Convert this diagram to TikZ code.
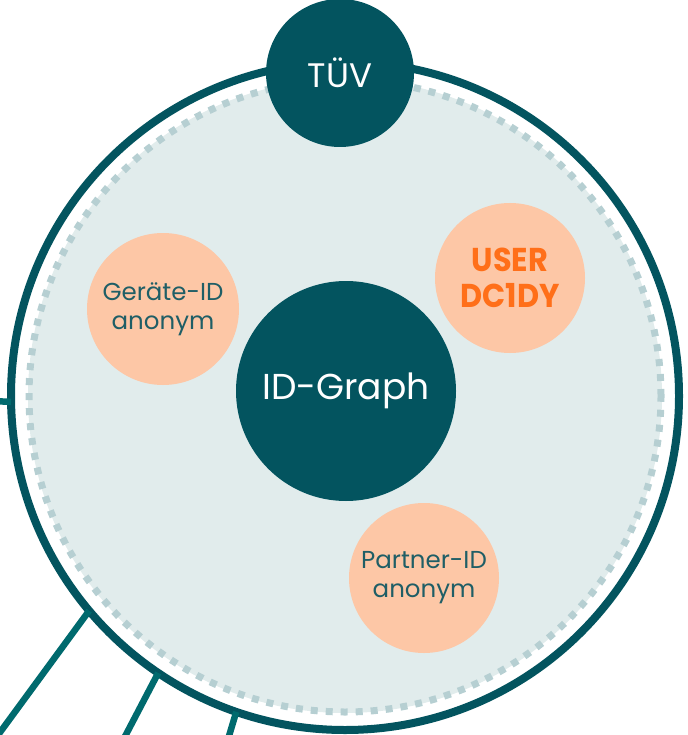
\documentclass[tikz,border=0pt]{standalone}
\usepackage{fontspec}
\setmainfont{Poppins}
\definecolor{ringteal}{HTML}{03545F}
\definecolor{linkteal}{HTML}{006A6E}
\definecolor{dashgray}{HTML}{B6CFD2}
\definecolor{innerfill}{HTML}{E1ECEC}
\definecolor{peach}{HTML}{FDC7A6}
\definecolor{usertext}{HTML}{FF6F19}
\definecolor{idtext}{HTML}{1F5E66}
\tikzset{
  hub/.style={circle,fill=ringteal,text=white,inner sep=0pt,align=center},
  idbubble/.style={circle,fill=peach,text=idtext,minimum size=152pt,inner sep=0pt,align=center,font=\fontsize{24.5}{29}\selectfont},
  link/.style={draw=linkteal,line width=6.5pt}
}
\begin{document}
\begin{tikzpicture}[x=1pt,y=-1pt]
\useasboundingbox (0,0) rectangle (687,735);
% ring
\fill[innerfill] (345,396) circle (317pt);
\draw[dashgray,line width=7pt,dash pattern=on 7pt off 8pt] (345,396) circle (316pt);
\node[circle,draw=ringteal,line width=8pt,minimum size=668pt,inner sep=0pt,outer sep=0pt] (ring) at (345,396) {};
% links leaving the ring
\coordinate (westend) at (-10,401);
\coordinate (swend) at (-10,746);
\coordinate (sswend) at (120,746);
\coordinate (send) at (226,746);
\draw[link] (ring.181) -- (westend);
\draw[link] (ring.220.8) -- (swend);
\draw[link] (ring.236) -- (sswend);
\draw[link] (ring.251) -- (send);
% hubs
\node[hub,minimum size=148pt,font=\fontsize{34}{40}\selectfont] (tuv) at (340,73) {TÜV};
\node[hub,minimum size=220pt,font=\fontsize{36}{42}\selectfont] (graph) at (346,391) {ID-Graph};
% ids
\node[idbubble] (device) at (163,309) {Geräte-ID\\anonym};
\node[idbubble,minimum size=150pt,text=usertext,font=\bfseries\fontsize{33}{36}\selectfont] (user) at (510,278) {\scalebox{0.92}[1]{USER}\\\scalebox{0.92}[1]{DC1DY}};
\node[idbubble,minimum size=150pt] (partner) at (424,578) {Partner-ID\\anonym};
\end{tikzpicture}
\end{document}
